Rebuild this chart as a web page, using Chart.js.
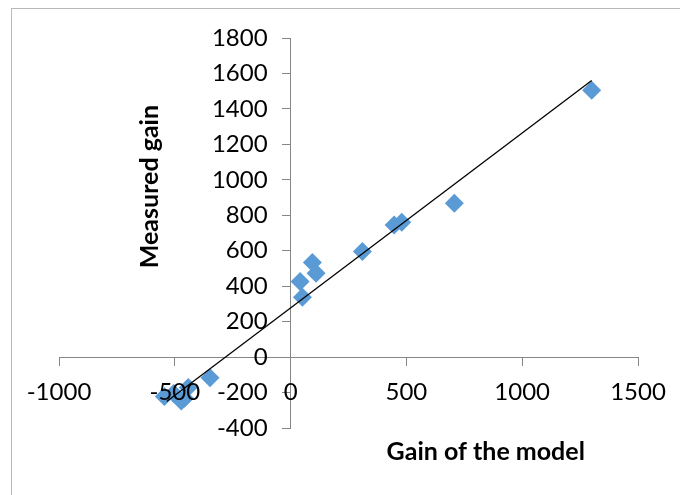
<!DOCTYPE html>
<html>
<head>
<meta charset="utf-8">
<script src="https://cdn.jsdelivr.net/npm/chart.js@4.4.1/dist/chart.umd.min.js"></script>
<style>
  html, body { margin: 0; padding: 0; background: #ffffff; }
  #wrap { position: relative; width: 680px; height: 495px; overflow: hidden; }
  #frame { position: absolute; left: 11px; top: 8px; width: 720px; height: 520px; border: 1px solid #b8b8b8; box-sizing: border-box; }
  #chart { position: absolute; left: 0; top: 0; }
</style>
</head>
<body>
<div id="wrap">
  <div id="frame"></div>
  <canvas id="chart" width="680" height="495"></canvas>
</div>
<script>
// Model gain vs measured gain
const gainModel = [1300, 707, 480, 447, 310, 94, 110, 41, 51, -348, -442, -458, -472, -505, -545];
const measuredGain = [1505, 868, 760, 745, 595, 533, 473, 426, 338, -117, -172, -232, -248, -205, -222];

// Linear trend line end points
const trendX = [-535, 1300];
const trendY = [-250, 1560];

const xTicks = [-1000, -500, 0, 500, 1000, 1500];
const yTicks = [-400, -200, 0, 200, 400, 600, 800, 1000, 1200, 1400, 1600, 1800];

const xTitle = 'Gain of the model';
const yTitle = 'Measured gain';

const FONT = 'Lato';
const AXIS_GRAY = '#868686';

const points = gainModel.map((x, i) => ({ x, y: measuredGain[i] }));
const trend = trendX.map((x, i) => ({ x, y: trendY[i] }));

// Linear scale whose vertical tick labels sit clear of an axis crossing the plot
class CrossingLinearScale extends Chart.LinearScale {
  _computeLabelItems(chartArea) {
    const items = super._computeLabelItems(chartArea);
    if (!this.isHorizontal()) {
      const shift = this.options.grid.tickLength + this.options.ticks.padding;
      items.forEach(item => { item.options.translation[0] -= shift; });
    }
    return items;
  }
}
CrossingLinearScale.id = 'crossingLinear';
CrossingLinearScale.defaults = Chart.LinearScale.defaults;
Chart.register(CrossingLinearScale);

// axis titles drawn next to the centred axes
const axisTitles = {
  id: 'axisTitles',
  afterDraw(chart) {
    const { ctx, chartArea } = chart;
    ctx.save();
    ctx.fillStyle = '#000000';
    ctx.font = `bold 25px ${FONT}`;
    ctx.textAlign = 'center';
    ctx.textBaseline = 'middle';
    ctx.fillText(xTitle, chartArea.left + (chartArea.right - chartArea.left) * 0.737, chartArea.bottom + 24);
    ctx.translate(chartArea.left + 91, chartArea.top + (chartArea.bottom - chartArea.top) * 0.381);
    ctx.rotate(-Math.PI / 2);
    ctx.fillText(yTitle, 0, 0);
    ctx.restore();
  }
};

const plainNumber = (v) => String(v);

new Chart(document.getElementById('chart'), {
  type: 'scatter',
  data: {
    datasets: [
      {
        label: 'Trend',
        type: 'line',
        data: trend,
        borderColor: '#000000',
        borderWidth: 1.3,
        pointRadius: 0,
        fill: false,
        order: 1
      },
      {
        label: 'Gain',
        data: points,
        pointStyle: 'rectRot',
        pointRadius: 9.5,
        pointHoverRadius: 9.5,
        backgroundColor: '#5B9BD5',
        borderColor: '#5B9BD5',
        borderWidth: 0,
        order: 2
      }
    ]
  },
  options: {
    responsive: false,
    animation: false,
    events: [],
    layout: { padding: { left: 59, right: 42, top: 38, bottom: 67 } },
    plugins: { legend: { display: false }, tooltip: { enabled: false } },
    scales: {
      x: {
        type: 'linear',
        min: -1000,
        max: 1500,
        position: { y: 0 },
        afterBuildTicks: (s) => { s.ticks = xTicks.map(v => ({ value: v })); },
        ticks: { z: 1, color: '#000000', font: { family: FONT, size: 24 }, padding: 13, maxRotation: 0, callback: plainNumber },
        grid: { drawOnChartArea: false, drawTicks: true, tickLength: 8, color: AXIS_GRAY, lineWidth: 1 },
        border: { color: AXIS_GRAY, width: 1 }
      },
      y: {
        type: 'crossingLinear',
        min: -400,
        max: 1800,
        position: { x: 0 },
        afterBuildTicks: (s) => { s.ticks = yTicks.map(v => ({ value: v })); },
        ticks: { color: '#000000', font: { family: FONT, size: 24 }, padding: 15, callback: plainNumber },
        grid: { drawOnChartArea: false, drawTicks: true, tickLength: 8, color: AXIS_GRAY, lineWidth: 1 },
        border: { color: AXIS_GRAY, width: 1 }
      }
    }
  },
  plugins: [axisTitles]
});
</script>
</body>
</html>
